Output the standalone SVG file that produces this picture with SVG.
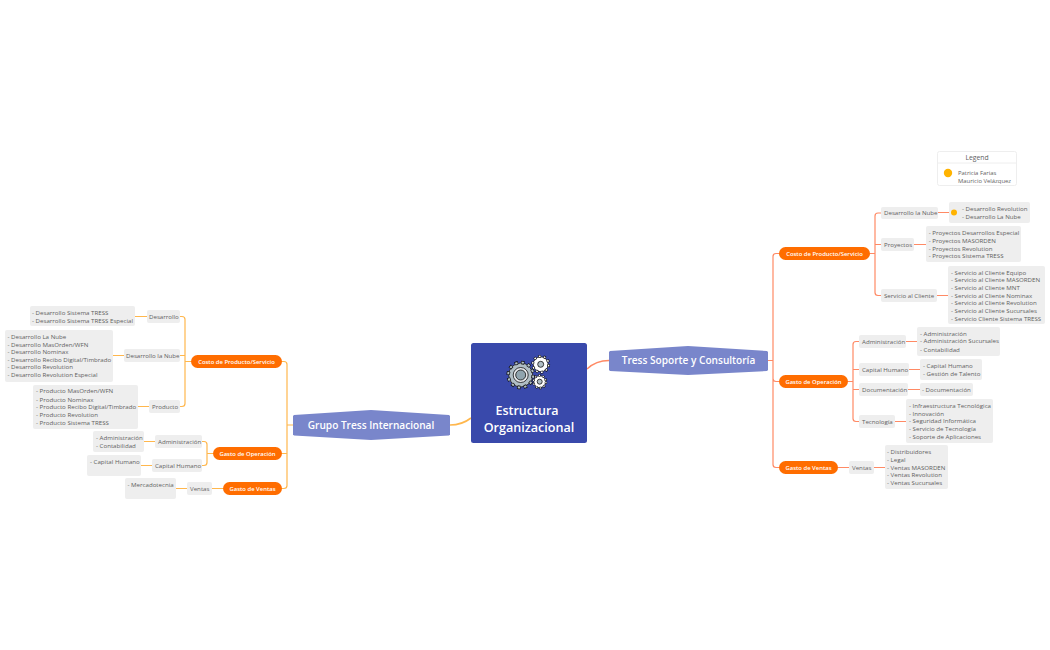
<svg xmlns="http://www.w3.org/2000/svg" width="1050" height="650" viewBox="0 0 1050 650">
<style>
text{font-family:"Open Sans","Liberation Sans",sans-serif}
.n rect{fill:#eeeeee}
.n text{font-size:6.15px;fill:#5f5f5f}
.l text{font-size:6.15px;fill:#5f5f5f}
.l rect{fill:#eeeeee}
.p rect{fill:#ff6d00}
.p text{font-size:5.9px;fill:#fff;font-weight:600;text-anchor:middle}
.h polygon{fill:#7986cb}
.h text{font-size:10.1px;fill:#fff;font-weight:600;text-anchor:middle}
.cr path{fill:none;stroke:#ff8a65;stroke-width:1.2}
.cl path{fill:none;stroke:#ffb74d;stroke-width:1.2}
.gear{stroke:#111;stroke-width:.8;fill:#b0bec5}
</style>
<g id="connectors">
<g class="cr">
<path d="M587 369Q596 360.500 609 360.500" style="stroke-width:1.600"/>
<path d="M768 360.500H773M779 253.500H776Q773 253.500 773 256.500V464.500Q773 467.500 776 467.500H779M773 378.500Q773 381.500 776 381.500H779"/>
<path d="M870 253.500H875M881 213H878Q875 213 875 216V292.500Q875 295.500 878 295.500H881M875 244.500H881"/>
<path d="M848 381.500H853M859 341.500H856Q853 341.500 853 344.500V418.500Q853 421.500 856 421.500H859M853 369.500H859M853 389.500H859"/>
<path d="M838 467.500H849M874 467.500H885"/>
<path d="M938 212.500H949M914 244.500H926M937 295.500H948M906 341.500H917M909 369.500H920M908 389.500H920M895 421.500H906"/>
</g>
<g class="cl">
<path d="M450 425Q462 425 471 418" style="stroke-width:1.600"/>
<path d="M293 425H287M282 361.500H284Q287 361.500 287 364.500V485.500Q287 488.500 284 488.500H282M282 453.500H287"/>
<path d="M191 361.500H185M180 316.500H182Q185 316.500 185 319.500V403.500Q185 406.500 182 406.500H180M180 355.500H185"/>
<path d="M213 453.500H207M202 441.500H204Q207 441.500 207 444.500V462.500Q207 465.500 204 465.500H202"/>
<path d="M223 488.500H212M187 488.500H176"/>
<path d="M147 316.500H135M124 355.500H113M149 406.500H138M155 441.500H144M152 465.500H141"/>
</g>
</g>

<g id="root">
<rect x="471" y="343" width="116" height="100" rx="2.500" fill="#3949ab"/>
<circle class="gear" cx="520.700" cy="375" r="12"/>
<circle cx="520.700" cy="375" r="12.500" fill="none" stroke="#111" stroke-width="3.500" stroke-dasharray="3.300 3.250"/>
<circle cx="520.700" cy="375" r="12.500" fill="none" stroke="#b0bec5" stroke-width="2" stroke-dasharray="2.300 4.250" stroke-dashoffset="-.5"/>
<circle cx="520.700" cy="375" r="7.500" fill="#e8eaed" stroke="#111" stroke-width=".8"/>
<circle cx="520.700" cy="375" r="5" fill="#90a4ae" stroke="#111" stroke-width=".8"/>
<circle class="gear" cx="540.700" cy="364.300" r="7.500" style="fill:#fff"/>
<circle cx="540.700" cy="364.300" r="8" fill="none" stroke="#111" stroke-width="2.800" stroke-dasharray="2.500 2.530"/>
<circle cx="540.700" cy="364.300" r="8" fill="none" stroke="#fff" stroke-width="1.400" stroke-dasharray="1.700 3.330" stroke-dashoffset="-.4"/>
<circle cx="540.700" cy="364.300" r="3" fill="#b0bec5" stroke="#111" stroke-width=".8"/>
<circle cx="539.700" cy="381.700" r="6" style="fill:#fff" class="gear"/>
<circle cx="539.700" cy="381.700" r="6.300" fill="none" stroke="#111" stroke-width="2.400" stroke-dasharray="2 1.960"/>
<circle cx="539.700" cy="381.700" r="6.300" fill="none" stroke="#fff" stroke-width="1.200" stroke-dasharray="1.300 2.660" stroke-dashoffset="-.3"/>
<circle cx="539.700" cy="381.700" r="2.500" fill="#b0bec5" stroke="#111" stroke-width=".8"/>
<text x="527" y="415" font-size="12.500" font-weight="600" fill="#fff" text-anchor="middle">Estructura</text>
<text x="529" y="432" font-size="12.600" font-weight="600" fill="#fff" text-anchor="middle">Organizacional</text>
</g>

<g id="grupo" class="h"><polygon points="293,416 294,415 371,410 449,415 450,416 450,434.500 449,435.500 371,440 294,435.500 293,434.500"/><text x="371" y="428.500">Grupo Tress Internacional</text></g>
<g id="tress" class="h"><polygon points="609,352 610,351 688,346 767,351 768,352 768,370 767,371 688,375 610,371 609,370"/><text x="688.500" y="364">Tress Soporte y Consultoría</text></g>

<g id="l-costo" class="p"><rect x="191" y="355" width="91" height="13" rx="6.500"/><text x="236.500" y="364">Costo de Producto/Servicio</text></g>
<g id="l-gop" class="p"><rect x="213" y="447" width="69" height="13" rx="6.500"/><text x="247.500" y="456">Gasto de Operación</text></g>
<g id="l-gv" class="p"><rect x="223" y="482" width="59" height="13" rx="6.500"/><text x="252.500" y="491">Gasto de Ventas</text></g>
<g id="r-costo" class="p"><rect x="779" y="247" width="91" height="13" rx="6.500"/><text x="824.500" y="256">Costo de Producto/Servicio</text></g>
<g id="r-gop" class="p"><rect x="779" y="375" width="69" height="13" rx="6.500"/><text x="813.500" y="384">Gasto de Operación</text></g>
<g id="r-gv" class="p"><rect x="779" y="461" width="59" height="13" rx="6.500"/><text x="808.500" y="470">Gasto de Ventas</text></g>

<g id="l-n1" class="n"><rect x="147" y="310" width="33" height="13" rx="2"/><text x="149" y="318.700">Desarrollo</text></g>
<g id="l-n2" class="n"><rect x="124" y="349" width="56" height="13" rx="2"/><text x="126" y="358">Desarrollo la Nube</text></g>
<g id="l-n3" class="n"><rect x="149" y="400" width="31" height="13" rx="2"/><text x="152" y="409">Producto</text></g>
<g id="l-n4" class="n"><rect x="155" y="435" width="47" height="13" rx="2"/><text x="158" y="443.700">Administración</text></g>
<g id="l-n5" class="n"><rect x="152" y="459" width="50" height="13" rx="2"/><text x="155" y="468">Capital Humano</text></g>
<g id="l-n6" class="n"><rect x="187" y="482" width="25" height="13" rx="2"/><text x="190" y="491">Ventas</text></g>

<g id="l-l1" class="l"><rect x="30" y="306" width="105" height="20" rx="2"/><text><tspan x="32" y="314.600">- Desarrollo Sistema TRESS</tspan><tspan x="32" y="322.600">- Desarrollo Sistema TRESS Especial</tspan></text></g>
<g id="l-l2" class="l"><rect x="5" y="330" width="108" height="52" rx="2"/><text><tspan x="7.500" y="339">- Desarrollo La Nube</tspan><tspan x="7.500" y="346.800">- Desarrollo MasOrden/WFN</tspan><tspan x="7.500" y="354">- Desarrollo Nominax</tspan><tspan x="7.500" y="362">- Desarrollo Recibo Digital/Timbrado</tspan><tspan x="7.500" y="369.300">- Desarrollo Revolution</tspan><tspan x="7.500" y="377.300">- Desarrollo Revolution Especial</tspan></text></g>
<g id="l-l3" class="l"><rect x="33" y="385" width="105" height="44" rx="2"/><text><tspan x="36" y="393.300">- Producto MasOrden/WFN</tspan><tspan x="36" y="401.600">- Producto Nominax</tspan><tspan x="36" y="409">- Producto Recibo Digital/Timbrado</tspan><tspan x="36" y="416.600">- Producto Revolution</tspan><tspan x="36" y="424.600">- Producto Sistema TRESS</tspan></text></g>
<g id="l-l4" class="l"><rect x="93" y="431" width="51" height="21" rx="2"/><text><tspan x="96" y="440">- Administración</tspan><tspan x="96" y="447.600">- Contabilidad</tspan></text></g>
<g id="l-l5" class="l"><rect x="87" y="455" width="54" height="21" rx="2"/><text x="90" y="464">- Capital Humano</text></g>
<g id="l-l6" class="l"><rect x="125" y="478" width="51" height="21" rx="2"/><text x="127.500" y="486.600">- Mercadotecnia</text></g>

<g id="r-n1" class="n"><rect x="881" y="207" width="57" height="12" rx="2"/><text x="884" y="215">Desarrollo la Nube</text></g>
<g id="r-n2" class="n"><rect x="881" y="238" width="33" height="13" rx="2"/><text x="884" y="247">Proyectos</text></g>
<g id="r-n3" class="n"><rect x="881" y="289" width="56" height="13" rx="2"/><text x="884" y="298">Servicio al Cliente</text></g>
<g id="r-n4" class="n"><rect x="859" y="335" width="47" height="13" rx="2"/><text x="862" y="343.700">Administración</text></g>
<g id="r-n5" class="n"><rect x="859" y="363" width="50" height="13" rx="2"/><text x="862" y="371.800">Capital Humano</text></g>
<g id="r-n6" class="n"><rect x="859" y="383" width="49" height="13" rx="2"/><text x="862" y="391.800">Documentación</text></g>
<g id="r-n7" class="n"><rect x="859" y="415" width="36" height="13" rx="2"/><text x="862" y="423.800">Tecnología</text></g>
<g id="r-n8" class="n"><rect x="849" y="461" width="25" height="13" rx="2"/><text x="852" y="469.800">Ventas</text></g>

<g id="r-l1" class="l"><rect x="949" y="202" width="81" height="21" rx="2"/><circle cx="954" cy="212.500" r="3" fill="#ffb300"/><text><tspan x="962" y="210.600">- Desarrollo Revolution</tspan><tspan x="962" y="218.600">- Desarrollo La Nube</tspan></text></g>
<g id="r-l2" class="l"><rect x="926" y="226" width="95" height="36" rx="2"/><text><tspan x="928.700" y="235">- Proyectos Desarrollos Especial</tspan><tspan x="928.700" y="242.600">- Proyectos MASORDEN</tspan><tspan x="928.700" y="250.600">- Proyectos Revolution</tspan><tspan x="928.700" y="258">- Proyectos Sistema TRESS</tspan></text></g>
<g id="r-l3" class="l"><rect x="948" y="266" width="97" height="58" rx="2"/><text><tspan x="951" y="274.600">- Servicio al Cliente Equipo</tspan><tspan x="951" y="282">- Servicio al Cliente MASORDEN</tspan><tspan x="951" y="289.600">- Servicio al Cliente MNT</tspan><tspan x="951" y="297.600">- Servicio al Cliente Nominax</tspan><tspan x="951" y="305">- Servicio al Cliente Revolution</tspan><tspan x="951" y="313">- Servicio al Cliente Sucursales</tspan><tspan x="951" y="320.600">- Servicio Cliente Sistema TRESS</tspan></text></g>
<g id="r-l4" class="l"><rect x="917" y="327" width="83" height="29" rx="2"/><text><tspan x="920" y="336">- Administración</tspan><tspan x="920" y="343.300">- Administración Sucursales</tspan><tspan x="920" y="351.600">- Contabilidad</tspan></text></g>
<g id="r-l5" class="l"><rect x="920" y="359" width="62" height="21" rx="2"/><text><tspan x="923" y="367.600">- Capital Humano</tspan><tspan x="923" y="375.600">- Gestión de Talento</tspan></text></g>
<g id="r-l6" class="l"><rect x="920" y="383" width="53" height="13" rx="2"/><text x="922" y="391.600">- Documentación</text></g>
<g id="r-l7" class="l"><rect x="906" y="399" width="87" height="44" rx="2"/><text><tspan x="909" y="408">- Infraestructura Tecnológica</tspan><tspan x="909" y="415.600">- Innovación</tspan><tspan x="909" y="423.300">- Seguridad Informática</tspan><tspan x="909" y="431">- Servicio de Tecnología</tspan><tspan x="909" y="438.600">- Soporte de Aplicaciones</tspan></text></g>
<g id="r-l8" class="l"><rect x="885" y="445" width="63" height="44" rx="2"/><text><tspan x="887" y="454">- Distribuidores</tspan><tspan x="887" y="462">- Legal</tspan><tspan x="887" y="470">- Ventas MASORDEN</tspan><tspan x="887" y="477">- Ventas Revolution</tspan><tspan x="887" y="485">- Ventas Sucursales</tspan></text></g>

<g id="legend">
<rect x="937.500" y="151.500" width="79" height="34" rx="2" fill="#fff" stroke="#eeeeee"/>
<path d="M938 163H1016" stroke="#eeeeee"/>
<text x="977" y="160" font-size="6.800" fill="#5f5f5f" text-anchor="middle">Legend</text>
<circle cx="948" cy="173" r="4.200" fill="#ffb300"/>
<text font-size="5.900" fill="#5f5f5f"><tspan x="958" y="175">Patricia Farias</tspan><tspan x="958" y="183">Mauricio Velázquez</tspan></text>
</g>
</svg>
